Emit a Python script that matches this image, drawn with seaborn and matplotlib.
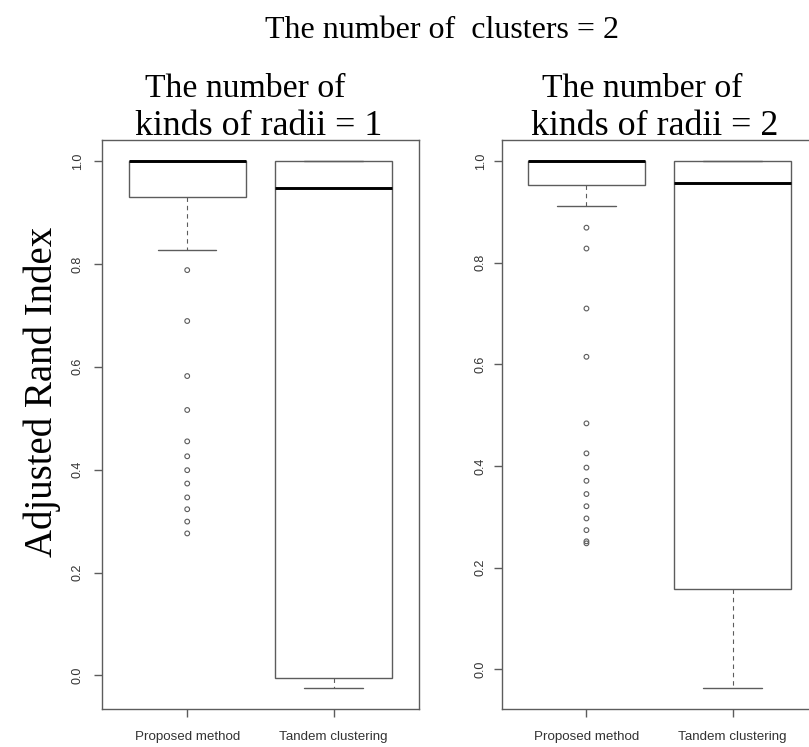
import matplotlib
matplotlib.use("Agg")
import matplotlib.pyplot as plt
import pandas as pd
import seaborn as sns

# ---------------- data ----------------
methods = ["Proposed method", "Tandem clustering"]

# panel 1 : the number of kinds of radii = 1
p1_med = [1.000, 0.948]
p1_q1 = [0.930, -0.005]
p1_q3 = [1.000, 1.000]
p1_whislo = [0.828, -0.025]
p1_whishi = [1.000, 1.000]
p1_outliers = [0.788, 0.689, 0.582, 0.516, 0.455, 0.426, 0.399, 0.373,
               0.346, 0.323, 0.299, 0.276]

# panel 2 : the number of kinds of radii = 2
p2_med = [1.000, 0.956]
p2_q1 = [0.952, 0.158]
p2_q3 = [1.000, 1.000]
p2_whislo = [0.912, -0.037]
p2_whishi = [1.000, 1.000]
p2_outliers = [0.869, 0.828, 0.710, 0.615, 0.484, 0.425, 0.397, 0.371,
               0.345, 0.321, 0.297, 0.274, 0.252, 0.248]

yticks = [0.0, 0.2, 0.4, 0.6, 0.8, 1.0]
ytick_labels = ["0.0", "0.2", "0.4", "0.6", "0.8", "1.0"]

main_title = "The number of  clusters = 2"
sub_line1 = ["The number of", "The number of"]
sub_line2 = ["kinds of radii = 1", "kinds of radii = 2"]
ylabel = "Adjusted Rand Index"

# ---------------- styling ----------------
sns.set_theme(style="ticks")
plt.rcParams["font.family"] = ["Liberation Sans", "DejaVu Sans"]

GRAY = "#5c5c5c"
TXT = "#333333"
SERIF = ["Liberation Serif", "DejaVu Serif"]

W, H = 809, 747
fig = plt.figure(figsize=(W / 100, H / 100), dpi=100)
fig.patch.set_facecolor("white")

ax_bottom = (H - 709.3) / H
ax_height = (709.3 - 140.0) / H
ax1 = fig.add_axes([102.3 / W, ax_bottom, 316.2 / W, ax_height])
ax2 = fig.add_axes([501.7 / W, ax_bottom, 315.6 / W, ax_height])


def draw_panel(ax, med, q1, q3, lo, hi, outliers, ypad):
    df = pd.DataFrame({"method": [methods[0]] * len(outliers),
                       "ARI": outliers})
    sns.stripplot(data=df, x="method", y="ARI", order=methods, jitter=False,
                  ax=ax, size=3.4, color=GRAY, facecolor="none",
                  edgecolor=GRAY, linewidth=0.8, zorder=3)
    stats = [dict(med=med[i], q1=q1[i], q3=q3[i], whislo=lo[i],
                  whishi=hi[i], fliers=[], label=methods[i])
             for i in range(len(methods))]
    ax.bxp(stats, positions=list(range(len(methods))), widths=0.8,
           capwidths=0.4, showfliers=False, manage_ticks=False,
           patch_artist=True,
           boxprops=dict(facecolor="white", edgecolor=GRAY, linewidth=1.0),
           medianprops=dict(color="black", linewidth=2.1, solid_capstyle="butt"),
           whiskerprops=dict(color=GRAY, linewidth=0.8,
                             linestyle=(0, (4, 3.5))),
           capprops=dict(color=GRAY, linewidth=1.0))

    ymin = min(lo)
    ymax = max(hi)
    pad = 0.04 * (ymax - ymin)
    ax.set_ylim(ymin - pad, ymax + pad)
    ax.set_xlim(-0.58, len(methods) - 1 + 0.58)

    ax.set_xlabel("")
    ax.set_ylabel("")
    ax.set_yticks(yticks)
    ax.set_yticklabels(ytick_labels)
    ax.set_xticks(range(len(methods)))
    ax.set_xticklabels(methods)

    for sp in ax.spines.values():
        sp.set_visible(True)
        sp.set_color(GRAY)
        sp.set_linewidth(1.0)
    ax.set_facecolor("white")
    ax.grid(False)

    ax.tick_params(axis="both", direction="out", length=5.8, width=1.0,
                   color=GRAY, labelcolor=TXT)
    ax.tick_params(axis="x", labelsize=9.6, pad=9.5)
    ax.tick_params(axis="y", labelsize=9.0, pad=ypad)
    for t in ax.get_yticklabels():
        t.set_rotation(90)
        t.set_va("center")
        t.set_ha("right")


draw_panel(ax1, p1_med, p1_q1, p1_q3, p1_whislo, p1_whishi, p1_outliers, 7.5)
draw_panel(ax2, p2_med, p2_q1, p2_q3, p2_whislo, p2_whishi, p2_outliers, 4.8)

# ---------------- texts ----------------
fig.text(442 / W, 1 - 38 / H, main_title, ha="center", va="baseline",
         fontsize=23, family=SERIF, color="black")
fig.text(245.5 / W, 1 - 97 / H, sub_line1[0], ha="center", va="baseline",
         fontsize=24.3, family=SERIF, color="black")
fig.text(259 / W, 1 - 135 / H, sub_line2[0], ha="center", va="baseline",
         fontsize=25.8, family=SERIF, color="black")
fig.text(642 / W, 1 - 97 / H, sub_line1[1], ha="center", va="baseline",
         fontsize=24.3, family=SERIF, color="black")
fig.text(655 / W, 1 - 135 / H, sub_line2[1], ha="center", va="baseline",
         fontsize=25.8, family=SERIF, color="black")
fig.text(42 / W, 1 - 392 / H, ylabel, ha="center", va="center",
         rotation=90, fontsize=28, family=SERIF, color="black")

fig.savefig("out.png", dpi=100, facecolor="white")
